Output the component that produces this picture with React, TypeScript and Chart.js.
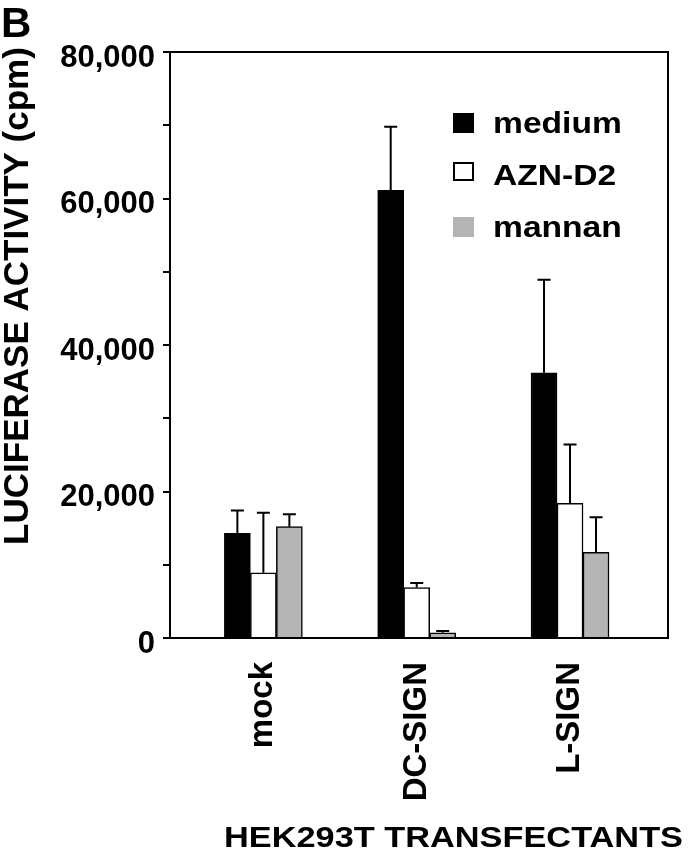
import React, { useEffect, useRef } from 'react';
import { Chart, registerables } from 'chart.js';

Chart.register(...registerables);

// ---- data ----
const categories = ['mock', 'DC-SIGN', 'L-SIGN'];
const seriesNames = ['medium', 'AZN-D2', 'mannan'];
const mediumValues = [14300, 61100, 36200];
const aznValues = [8900, 6900, 18400];
const mannanValues = [15200, 700, 11700];
const mediumErrors = [3100, 8700, 12700];
const aznErrors = [8200, 600, 8000];
const mannanErrors = [1700, 250, 4800];
const yLabeledTicks = [0, 20000, 40000, 60000, 80000];
const yTitle = 'LUCIFERASE ACTIVITY (cpm)';
const xTitle = 'HEK293T TRANSFECTANTS';
const panelLabel = 'B';

const seriesValues = [mediumValues, aznValues, mannanValues];
const seriesErrors = [mediumErrors, aznErrors, mannanErrors];
const seriesFill = ['#000000', '#ffffff', '#b4b4b4'];

const FAMILY = '"Liberation Sans", Arial, Helvetica, sans-serif';

function drawStretched(ctx: CanvasRenderingContext2D, text: string, x: number, y: number, font: string, sx: number) {
  ctx.save();
  ctx.translate(x, y);
  ctx.scale(sx, 1);
  ctx.font = font;
  ctx.textAlign = 'left';
  ctx.textBaseline = 'alphabetic';
  ctx.fillStyle = '#000';
  ctx.fillText(text, 0, 0);
  ctx.restore();
}

const annotatePlugin = {
  id: 'annotate',
  afterDatasetsDraw(chart: any) {
    const ctx: CanvasRenderingContext2D = chart.ctx;
    const yScale = chart.scales.y;
    ctx.save();
    ctx.strokeStyle = '#000';
    ctx.lineWidth = 2;
    chart.data.datasets.forEach((ds: any, di: number) => {
      const meta = chart.getDatasetMeta(di);
      const errs = seriesErrors[di];
      meta.data.forEach((bar: any, j: number) => {
        const v = ds.data[j].y;
        const top = yScale.getPixelForValue(v + errs[j]);
        ctx.beginPath();
        ctx.moveTo(bar.x, bar.y);
        ctx.lineTo(bar.x, top);
        ctx.moveTo(bar.x - 6.5, top);
        ctx.lineTo(bar.x + 6.5, top);
        ctx.stroke();
      });
    });
    ctx.restore();
  },
  afterDraw(chart: any) {
    const ctx: CanvasRenderingContext2D = chart.ctx;
    const a = chart.chartArea;
    // frame
    ctx.save();
    ctx.strokeStyle = '#000';
    ctx.lineWidth = 2;
    ctx.strokeRect(a.left, a.top, a.right - a.left, a.bottom - a.top);
    ctx.restore();

    // legend
    const lx = a.right - 215;
    const baselines = [a.top + 81, a.top + 133, a.top + 185];
    seriesNames.forEach((name, i) => {
      const b = baselines[i];
      ctx.save();
      if (i === 1) {
        ctx.fillStyle = '#fff';
        ctx.fillRect(lx + 1, b - 22, 19, 17);
        ctx.strokeStyle = '#000';
        ctx.lineWidth = 2;
        ctx.strokeRect(lx + 1, b - 22, 19, 17);
      } else {
        ctx.fillStyle = seriesFill[i];
        ctx.fillRect(lx, b - 20, 21, 20);
      }
      ctx.restore();
      drawStretched(ctx, name, lx + 40, b, `bold 30px ${FAMILY}`, 1.12);
    });

    // panel label
    ctx.save();
    ctx.font = `bold 42px ${FAMILY}`;
    ctx.fillStyle = '#000';
    ctx.textAlign = 'left';
    ctx.textBaseline = 'alphabetic';
    ctx.fillText(panelLabel, 1, 37);
    ctx.restore();

    // y title
    ctx.save();
    ctx.translate(28, 296);
    ctx.rotate(-Math.PI / 2);
    ctx.font = `bold 35px ${FAMILY}`;
    ctx.fillStyle = '#000';
    ctx.textAlign = 'center';
    ctx.textBaseline = 'alphabetic';
    ctx.fillText(yTitle, 0, 0);
    ctx.restore();

    // x title
    ctx.save();
    ctx.font = `bold 29px ${FAMILY}`;
    const w = ctx.measureText(xTitle).width;
    ctx.restore();
    drawStretched(ctx, xTitle, 224, 847, `bold 29px ${FAMILY}`, 459 / w);
  },
};

export default function App() {
  const canvasRef = useRef<HTMLCanvasElement | null>(null);

  useEffect(() => {
    const canvas = canvasRef.current;
    if (!canvas) return;
    const chart = new Chart(canvas, {
      type: 'bar',
      data: {
        datasets: seriesNames.map((name, i) => ({
          label: name,
          data: seriesValues[i].map((y, x) => ({ x, y })),
          backgroundColor: seriesFill[i],
          borderColor: '#000',
          borderWidth: 1.5,
          barThickness: 26,
        })),
      },
      options: {
        responsive: false,
        animation: false,
        devicePixelRatio: 1,
        layout: { padding: { top: 52, right: 21, left: 0, bottom: 0 } },
        plugins: {
          legend: { display: false },
          tooltip: { enabled: false },
        },
        scales: {
          x: {
            type: 'linear',
            offset: false,
            min: -0.609,
            max: 2.639,
            grid: { display: false, drawTicks: false, offset: false },
            border: { display: true, color: '#000', width: 2 },
            ticks: {
              autoSkip: false,
              minRotation: 90,
              maxRotation: 90,
              padding: 24,
              color: '#000',
              font: { family: FAMILY, size: 33, weight: 'bold' },
              callback: (v: any) => categories[v as number] ?? '',
            },
            afterBuildTicks: (s: any) => {
              s.ticks = categories.map((_, i) => ({ value: i }));
            },
            afterFit: (s: any) => {
              s.height = 215;
            },
          },
          y: {
            min: 0,
            max: 80000,
            grid: { drawOnChartArea: false, drawTicks: true, tickLength: 7, color: '#000', lineWidth: 2 },
            border: { display: true, color: '#000', width: 2 },
            ticks: {
              stepSize: 10000,
              autoSkip: false,
              padding: 8,
              labelOffset: 6,
              color: '#000',
              font: { family: FAMILY, size: 31, weight: 'bold' },
              callback: (v: any) => (yLabeledTicks.includes(v as number) ? Number(v).toLocaleString('en-US') : ''),
            },
            afterFit: (s: any) => {
              s.width = 170;
            },
          },
        },
      } as any,
      plugins: [annotatePlugin],
    });
    return () => chart.destroy();
  }, []);

  return (
    <div style={{ position: 'absolute', left: 0, top: 0, width: 689, height: 853, background: '#fff' }}>
      <canvas ref={canvasRef} width={689} height={853} style={{ display: 'block' }} />
    </div>
  );
}
